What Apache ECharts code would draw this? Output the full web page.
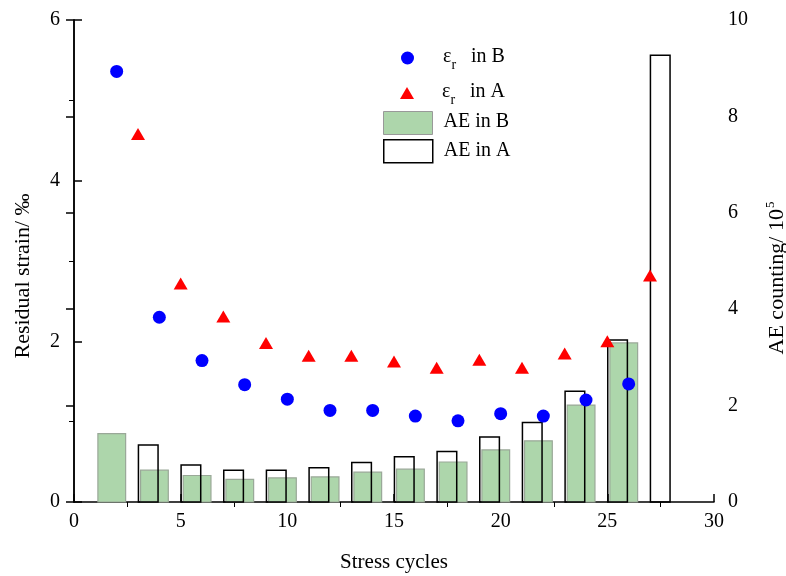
<!DOCTYPE html>
<html>
<head>
<meta charset="utf-8">
<script src="https://cdn.jsdelivr.net/npm/echarts@6/dist/echarts.min.js"></script>
<style>html,body{margin:0;padding:0;background:#fff}#c{width:786px;height:576px}</style>
</head>
<body>
<div id="c"></div>
<script>
// ---- data ----
var cyclesB = [2, 4, 6, 8, 10, 12, 14, 16, 18, 20, 22, 24, 26];
var strainB = [5.36, 2.30, 1.76, 1.46, 1.28, 1.14, 1.14, 1.07, 1.01, 1.10, 1.07, 1.27, 1.47];
var cyclesA = [3, 5, 7, 9, 11, 13, 15, 17, 19, 21, 23, 25, 27];
var strainA = [4.58, 2.72, 2.31, 1.98, 1.82, 1.82, 1.75, 1.67, 1.77, 1.67, 1.85, 2.00, 2.82];
var aeB = [1.42, 0.66, 0.55, 0.47, 0.50, 0.52, 0.62, 0.68, 0.83, 1.08, 1.27, 2.01, 3.30];
var aeA = [1.18, 0.77, 0.66, 0.66, 0.71, 0.82, 0.94, 1.05, 1.35, 1.65, 2.30, 3.36, 9.27];
var xTicks = [0, 5, 10, 15, 20, 25, 30];

var FONT = 'Liberation Serif';

function pairs(xs, ys) { return xs.map(function (x, i) { return [x, ys[i]]; }); }

function barRenderer(offL, offR, style) {
  return function (params, api) {
    var x = api.value(0), v = api.value(1);
    var p1 = api.coord([x + offL, v]);
    var p2 = api.coord([x + offR, 0]);
    return {
      type: 'rect',
      shape: { x: p1[0], y: p1[1], width: p2[0] - p1[0], height: p2[1] - p1[1] },
      style: style
    };
  };
}

var legendRich = {
  e: { fontFamily: FONT, fontSize: 20, color: '#000', verticalAlign: 'top', lineHeight: 22 },
  s: { fontFamily: FONT, fontSize: 14, color: '#000', verticalAlign: 'top', lineHeight: 14, padding: [11, 0, 0, 0] },
  t: { fontFamily: FONT, fontSize: 20, color: '#000', verticalAlign: 'top', lineHeight: 22 }
};
function legendFmt(name) {
  if (name.indexOf('εr') === 0) {
    return '{e|ε}{s|r}{t|   ' + name.slice(3) + '}';
  }
  return '{t|' + name + '}';
}
function mkLegend(name, icon, left, top, w, h, itemStyle, padLeft) {
  return {
    data: [{ name: name, icon: icon }],
    left: left, top: top, itemWidth: w, itemHeight: h, padding: 0,
    selectedMode: false, formatter: legendFmt,
    itemStyle: itemStyle,
    textStyle: { fontFamily: FONT, fontSize: 20, color: '#000', rich: legendRich, padding: [0, 0, 0, padLeft] }
  };
}

var tickStyle = { color: '#000', width: 1.5 };
var chart = echarts.init(document.getElementById('c'));
chart.setOption({
  animation: false,
  backgroundColor: '#fff',
  grid: { left: 74, right: 72, top: 20, bottom: 74, outerBoundsMode: 'none', containLabel: false },
  legend: [
    mkLegend('εr in B', 'circle', 401, 47, 13, 13, { color: '#0000ff', opacity: 1 }, 24),
    mkLegend('εr in A', 'path://M7,0L14,12L0,12Z', 400, 82, 14, 12, { color: '#ff0000', opacity: 1 }, 23),
    mkLegend('AE in B', 'rect', 383, 111, 49, 23, { color: '#add6ab', borderColor: '#999', borderWidth: 1 }, 6),
    mkLegend('AE in A', 'rect', 383, 139, 49, 23, { color: '#fff', borderColor: '#000', borderWidth: 1.5 }, 6)
  ],
  xAxis: [{
    type: 'value', min: 0, max: 30, interval: 5,
    name: 'Stress cycles', nameLocation: 'middle', nameGap: 50,
    nameTextStyle: { fontFamily: FONT, fontSize: 21, color: '#000' },
    axisLine: { show: true, lineStyle: { color: '#000', width: 1.5 } },
    axisTick: { show: true, inside: true, length: 8, lineStyle: tickStyle },
    axisLabel: { fontFamily: FONT, fontSize: 20, color: '#000', margin: 10,
      formatter: function (v) { return xTicks.indexOf(v) >= 0 ? String(v) : ''; } },
    splitLine: { show: false }
  }, {
    // minor ticks (outside)
    type: 'value', min: 0, max: 30, interval: 5, position: 'bottom',
    axisLine: { show: false }, axisLabel: { show: false },
    axisTick: { show: false, inside: false },
    minorTick: { show: true, splitNumber: 2, length: 5, lineStyle: { color: '#000', width: 1 } },
    splitLine: { show: false }
  }],
  yAxis: [{
    type: 'value', min: 0, max: 6, interval: 2, position: 'left',
    name: 'Residual strain/ ‰', nameLocation: 'middle', nameGap: 40, nameRotate: 90,
    nameTextStyle: { fontFamily: FONT, fontSize: 22, color: '#000', padding: [0, 30, 0, 0] },
    axisLine: { show: true, lineStyle: { color: '#000', width: 1.5 } },
    axisTick: { show: true, inside: true, length: 8, lineStyle: tickStyle },
    axisLabel: { fontFamily: FONT, fontSize: 20, color: '#000', margin: 14 },
    splitLine: { show: false }
  }, {
    type: 'value', min: 0, max: 10, interval: 2, position: 'right',
    name: '{a|AE counting/ 10}{b|5}', nameLocation: 'middle', nameGap: 50, nameRotate: 90,
    nameTextStyle: { fontFamily: FONT, fontSize: 22, color: '#000', padding: [0, 34, 0, 0],
      rich: {
        a: { fontFamily: FONT, fontSize: 22, color: '#000', verticalAlign: 'bottom', lineHeight: 24 },
        b: { fontFamily: FONT, fontSize: 13, color: '#000', verticalAlign: 'bottom', lineHeight: 24, padding: [0, 0, 11, 1] }
      } },
    axisLine: { show: true, lineStyle: { color: '#000', width: 1.5 } },
    axisTick: { show: true, inside: true, length: 8, lineStyle: tickStyle },
    axisLabel: { fontFamily: FONT, fontSize: 20, color: '#000', margin: 14 },
    splitLine: { show: false }
  }, {
    // minor ticks for left axis (outside)
    type: 'value', min: 0, max: 6, interval: 2, position: 'left',
    axisLine: { show: false }, axisLabel: { show: false },
    axisTick: { show: false, inside: false },
    minorTick: { show: true, splitNumber: 2, length: 5, lineStyle: { color: '#000', width: 1 } },
    splitLine: { show: false }
  }],
  series: [{
    name: 'AE in B', type: 'custom', yAxisIndex: 1, z: 1,
    itemStyle: { color: '#add6ab' },
    renderItem: barRenderer(-0.88, 0.42, { fill: '#add6ab', stroke: '#9aa898', lineWidth: 1.2 }),
    encode: { x: 0, y: 1 },
    data: pairs(cyclesB, aeB)
  }, {
    name: 'AE in A', type: 'custom', yAxisIndex: 1, z: 2,
    itemStyle: { color: '#fff' },
    renderItem: barRenderer(0.02, 0.94, { fill: 'none', stroke: '#000', lineWidth: 1.5 }),
    encode: { x: 0, y: 1 },
    data: pairs(cyclesA, aeA)
  }, {
    name: 'εr in B', type: 'scatter', yAxisIndex: 0, z: 5,
    symbol: 'circle', symbolSize: 13,
    itemStyle: { color: '#0000ff', opacity: 1 },
    data: pairs(cyclesB, strainB)
  }, {
    name: 'εr in A', type: 'scatter', yAxisIndex: 0, z: 5,
    symbol: 'triangle', symbolSize: [14, 12],
    itemStyle: { color: '#ff0000', opacity: 1 },
    data: pairs(cyclesA, strainA)
  }]
});
</script>
</body>
</html>
